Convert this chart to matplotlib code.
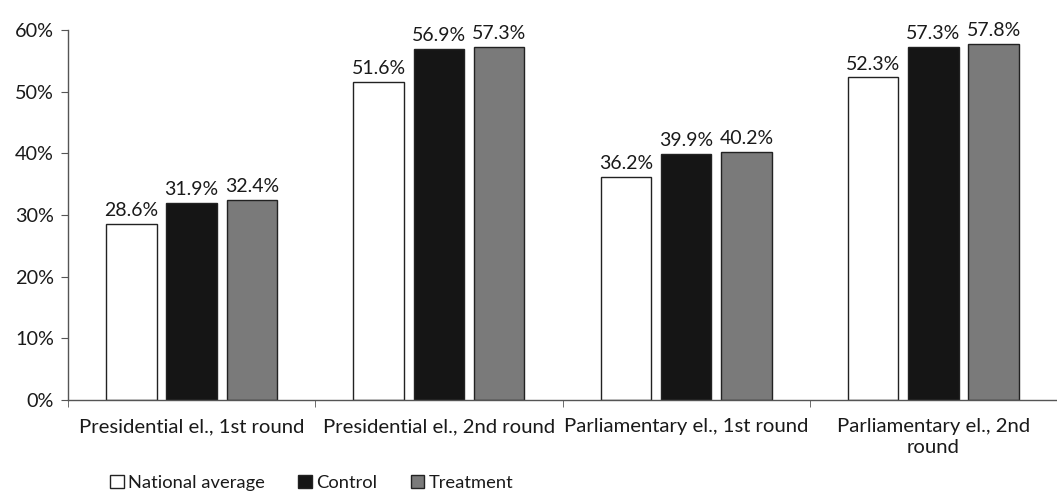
import matplotlib.pyplot as plt
import numpy as np

categories = ["Presidential el., 1st round", "Presidential el., 2nd round",
              "Parliamentary el., 1st round", "Parliamentary el., 2nd\nround"]
series_names = ["National average", "Control", "Treatment"]
national_average = [28.6, 51.6, 36.2, 52.3]
control = [31.9, 56.9, 39.9, 57.3]
treatment = [32.4, 57.3, 40.2, 57.8]
y_ticks = [0, 10, 20, 30, 40, 50, 60]

plt.rcParams['font.family'] = ['Lato', 'DejaVu Sans']

fig = plt.figure(figsize=(10.57, 4.93), dpi=100)
W, H = 1057, 493
ax = fig.add_axes([68 / W, 1 - 400 / H, (W - 68) / W, 370 / H])

x = np.arange(len(categories))
width = 0.204
step = 0.244
colors = ["white", "#151515", "#7a7a7a"]
series = [national_average, control, treatment]
text_col = "#1a1a1a"
for i, (vals, col, name) in enumerate(zip(series, colors, series_names)):
    pos = x + (i - 1) * step
    bars = ax.bar(pos, vals, width=width, color=col, edgecolor="#222222",
                  linewidth=1.0, label=name)
    for b, v in zip(bars, vals):
        ax.annotate(f"{v:.1f}%", (b.get_x() + b.get_width() / 2, v),
                    xytext=(0, 3.5), textcoords="offset points",
                    ha="center", va="bottom", fontsize=14, color=text_col)

ax.set_ylim(0, 60)
ax.set_xlim(-0.5, -0.5 + (W - 68) / 250)
ax.set_yticks(y_ticks)
ax.set_yticklabels([f"{t}%" for t in y_ticks], fontsize=14.3, color=text_col)
ax.set_xticks(x)
ax.set_xticklabels(categories, fontsize=14.6, color=text_col, linespacing=1.3)
ax.tick_params(axis="x", length=0, pad=13)
ax.tick_params(axis="y", length=5, color="#555555", pad=5)

# category boundary ticks along the x axis
ax.set_xticks(np.arange(len(categories) + 1) - 0.5, minor=True)
ax.tick_params(axis="x", which="minor", length=5, color="#555555")

for s in ["top", "right"]:
    ax.spines[s].set_visible(False)
for s in ["left", "bottom"]:
    ax.spines[s].set_color("#555555")
    ax.spines[s].set_linewidth(1.0)

handles, labels = ax.get_legend_handles_labels()
fig.legend(handles, labels, loc="center left", bbox_to_anchor=(110 / W, 1 - 483 / H),
           ncol=3, frameon=False, fontsize=13.2, handlelength=0.75, handleheight=0.75,
           handletextpad=0.25, columnspacing=1.8, borderaxespad=0, borderpad=0,
           labelcolor=text_col)

fig.savefig("out.png", dpi=100, facecolor="white")
